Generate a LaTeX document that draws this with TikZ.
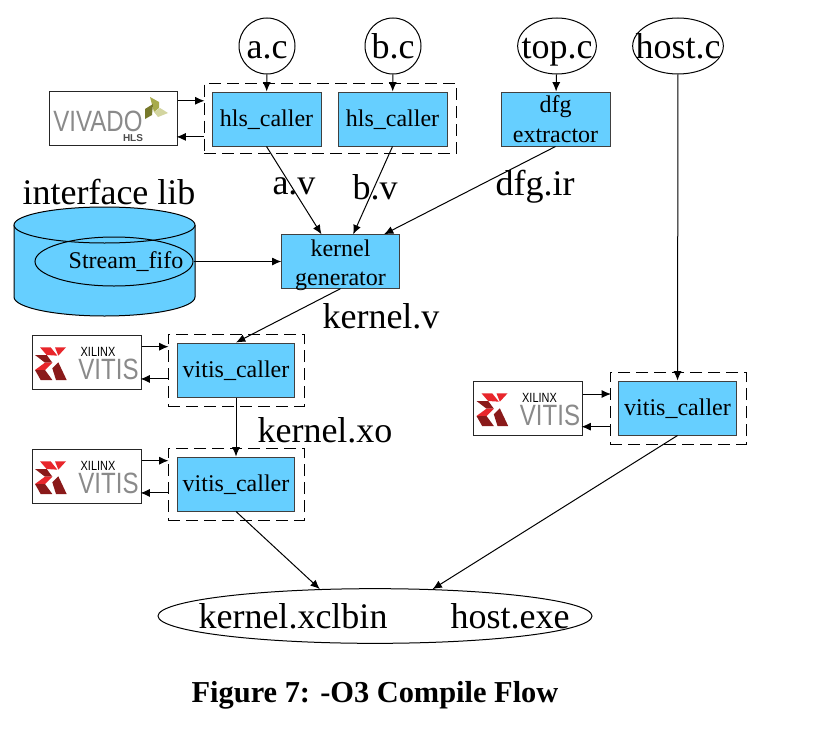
\documentclass[tikz,border=0pt]{standalone}
\usepackage{fontspec}
\setmainfont{Liberation Serif}
\setsansfont{Liberation Sans}
\newfontfamily\logofont[FakeStretch=0.82]{Liberation Sans}
\usepackage{tikz}
\usetikzlibrary{positioning}
\usetikzlibrary{shapes.geometric}
\usetikzlibrary{arrows.meta}
\definecolor{boxblue}{HTML}{66CFFF}
\definecolor{logogray}{HTML}{8A8A8A}
\definecolor{logored}{HTML}{E8262B}
\definecolor{logodark}{HTML}{8A1A1A}
\definecolor{leaftop}{HTML}{A8AB4C}
\definecolor{leafdark}{HTML}{77792B}
\definecolor{leaflight}{HTML}{D3D5A0}
\tikzset{
  flowbox/.style={draw=black!75, fill=boxblue, line width=0.75pt, inner sep=0pt, align=center,
    font=\fontsize{18}{22}\selectfont},
  single/.style={text height=15.8pt, text depth=4pt},
  hlsbox/.style={flowbox, minimum width=81.75pt, minimum height=40.5pt},
  vitisbox/.style={flowbox, single, minimum width=88pt, minimum height=40.5pt},
  group/.style={draw, dashed, dash pattern=on 9pt off 4.5pt, line width=0.75pt, inner sep=0pt},
  source/.style={draw, ellipse, line width=0.75pt, inner sep=-9pt, minimum height=42pt,
    text height=19pt, text depth=0pt, font=\fontsize{27}{30}\selectfont},
  logobox/.style={draw=black!85, fill=white, line width=0.75pt, inner sep=0pt,
    minimum width=81.75pt, minimum height=40.5pt},
  biglabel/.style={inner sep=0pt, font=\fontsize{27}{30}\selectfont},
  edge/.style={-{Latex[length=7pt,width=6pt]}, line width=0.75pt},
  vitis logo/.pic={
    \begin{scope}[shift={(-66.5,-37)}, x=0.25pt, y=-0.25pt]
      \fill[logored] (60,67) -- (92,67) -- (112,92) -- (80,90) -- cycle;
      \fill[logored] (105,67) -- (138,67) -- (115,92) -- cycle;
      \fill[logodark] (45,90) -- (80,90) -- (97,113) -- (75,113) -- cycle;
      \fill[logored] (75,113) -- (97,113) -- (75,135) -- (45,135) -- cycle;
      \fill[logodark] (45,135) -- (75,135) -- (97,165) -- (62,165) -- cycle;
      \fill[logodark] (97,130) -- (115,112) -- (140,165) -- (108,165) -- cycle;
    \end{scope}
    \node[inner sep=0pt, text height=7pt, text depth=0pt, font=\logofont\fontsize{10}{10}\selectfont] at (11.5,-10) {XILINX};
    \node[inner sep=0pt, text height=15.5pt, text depth=0pt, text=logogray, font=\logofont\fontsize{22}{22}\selectfont] at (22,7.5) {VITIS};
  },
}

\begin{document}
\begin{tikzpicture}[x=0.75pt, y=-0.75pt]
  \useasboundingbox (0,0) rectangle (816,742);

  % Sources
  \node[source, minimum width=42pt] (a_c) at (267,46) {a.c};
  \node[source, minimum width=42pt] (b_c) at (393,46) {b.c};
  \node[source, minimum width=59pt] (top_c) at (557,46) {top.c};
  \node[source, minimum width=68pt] (host_c) at (678,46) {host.c};

  % Groups
  \node[group, minimum width=189pt, minimum height=53pt] (hls_group) at (330,118.5) {};
  \node[group, minimum width=102pt, minimum height=54pt] (vitis_group_1) at (236,370) {};
  \node[group, minimum width=102pt, minimum height=54pt] (vitis_group_2) at (236,484) {};
  \node[group, minimum width=102pt, minimum height=54pt] (vitis_group_3) at (678,408) {};

  % Boxes
  \node[hlsbox, single] (hls_a) at (266.5,119) {hls\_caller};
  \node[hlsbox, single] (hls_b) at (392.5,119) {hls\_caller};
  \node[hlsbox] (dfg) at (555.5,119) {dfg\\extractor};
  \node[flowbox, inner ysep=-2.5pt, minimum width=88pt, minimum height=40pt] (kernel) at (340.5,261.5) {\rule{0pt}{18pt}kernel\\generator};
  \node[vitisbox] (vitis_1) at (236,370) {vitis\_caller};
  \node[vitisbox] (vitis_2) at (236,484) {vitis\_caller};
  \node[vitisbox] (vitis_3) at (677.5,408) {vitis\_caller};

  % Logos
  \node[logobox, minimum width=96pt] (vivado) at (113,118.5) {};
  \node[inner sep=0pt, text height=15.5pt, text depth=0pt, text=logogray, font=\logofont\fontsize{22}{22}\selectfont] (vivado_text) at (98,121) {VIVADO};
  \node[inner sep=0pt, text height=5.4pt, text depth=0pt, text=black!70, font=\sffamily\bfseries\fontsize{7.5}{8}\selectfont] (vivado_hls) at (133,138) {HLS};
  \fill[leaftop] (150,97) -- (159,102) -- (159,108) -- (154,112) -- cycle;
  \fill[leafdark] (145,109) -- (153,104) -- (152,115) -- (145,119) -- cycle;
  \fill[leaflight] (154,112) -- (160,108) -- (168,113) -- (158,117) -- cycle;
  \node[logobox] (xilinx_1) at (86.5,362) {};
  \pic at (xilinx_1) {vitis logo};
  \node[logobox] (xilinx_2) at (86.5,476) {};
  \pic at (xilinx_2) {vitis logo};
  \node[logobox] (xilinx_3) at (528,408) {};
  \pic at (xilinx_3) {vitis logo};

  % Library
  \draw[fill=boxblue, line width=0.75pt] (14,225) -- (14,297)
    arc[start angle=180, end angle=0, x radius=90.5, y radius=19] -- (195,225);
  \draw[fill=boxblue, line width=0.75pt] (104.5,225) ellipse [x radius=90.5, y radius=18];
  \node[draw, ellipse, line width=0.75pt, minimum width=118.5pt, minimum height=36.75pt, inner sep=0pt] (fifo) at (114,261.5) {};
  \node[inner sep=0pt, font=\fontsize{18}{21}\selectfont] (fifo_label) at (126,262) {Stream\_fifo};

  % Result
  \node[draw, ellipse, line width=0.75pt, minimum width=325.5pt, minimum height=41pt, inner sep=0pt] (result) at (375,616) {};
  \node[biglabel] (xclbin) at (293,616) {kernel.xclbin};
  \node[biglabel] (exe) at (510,616) {host.exe};

  % Labels
  \node[biglabel] (iface_label) at (109,192) {interface lib};
  \node[biglabel] (a_v) at (294,186) {a.v};
  \node[biglabel] (b_v) at (375,187) {b.v};
  \node[biglabel] (dfg_ir) at (535,187) {dfg.ir};
  \node[biglabel] (kernel_v) at (381,316) {kernel.v};
  \node[biglabel] (kernel_xo) at (325,430) {kernel.xo};
  \node[inner sep=0pt, font=\bfseries\fontsize{22.8}{26}\selectfont] (caption) at (375,695) {Figure 7: -O3 Compile Flow};

  % Connect nodes
  \draw[edge] (a_c) -- (hls_a);
  \draw[edge] (b_c) -- (hls_b);
  \draw[edge] (top_c) -- (dfg);
  \draw[edge] (host_c) -- (vitis_3);
  \draw[edge] (hls_a.south) -- (kernel.125);
  \draw[edge] (hls_b.south) -- (kernel.65);
  \draw[edge] (dfg.south) -- (kernel.32);
  \draw[edge] (fifo.east) -- (kernel.west);
  \draw[edge] (kernel.south) -- (vitis_1.north);
  \draw[edge] (vitis_1) -- (vitis_2);
  \draw[edge] (vitis_2.south) -- (result.154.7);
  \draw[edge] (vitis_3.south) -- (result.25.3);

  \draw[edge] ([yshift=13.3pt]vivado.east) -- ++(27,0);
  \draw[edge] ([yshift=-13.8pt]hls_group.west) -- ++(-27,0);
  \draw[edge] ([yshift=11.5pt]xilinx_1.east) -- ++(27,0);
  \draw[edge] ([yshift=-6.7pt]vitis_group_1.west) -- ++(-27,0);
  \draw[edge] ([yshift=11.5pt]xilinx_2.east) -- ++(27,0);
  \draw[edge] ([yshift=-6.7pt]vitis_group_2.west) -- ++(-27,0);
  \draw[edge] ([yshift=10.5pt]xilinx_3.east) -- ++(28,0);
  \draw[edge] ([yshift=-14pt]vitis_group_3.west) -- ++(-28,0);

\end{tikzpicture}
\end{document}
